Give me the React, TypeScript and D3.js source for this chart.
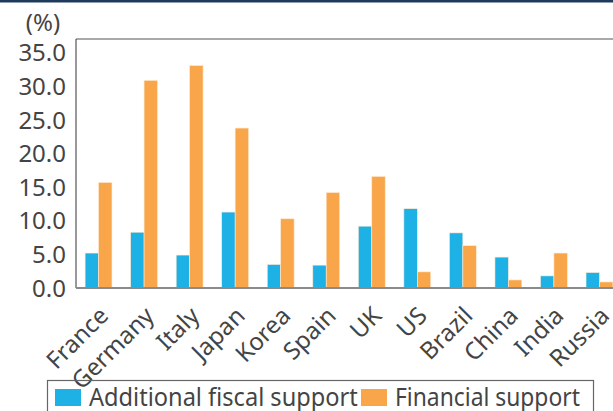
import React, { useRef, useEffect } from 'react';
import * as d3 from 'd3';

const countries = ['France', 'Germany', 'Italy', 'Japan', 'Korea', 'Spain', 'UK', 'US', 'Brazil', 'China', 'India', 'Russia'];
const fiscalSupport = [5.2, 8.3, 4.9, 11.3, 3.5, 3.4, 9.2, 11.8, 8.2, 4.6, 1.8, 2.3];
const financialSupport = [15.7, 30.9, 33.1, 23.8, 10.3, 14.2, 16.6, 2.4, 6.3, 1.2, 5.2, 0.9];
const yTicks = [0, 5, 10, 15, 20, 25, 30, 35];
const seriesNames = ['Additional fiscal support', 'Financial support'];
const colors = ['#1db1e6', '#f9a64b'];

const App = () => {
  const svgRef = useRef<SVGSVGElement>(null);

  useEffect(() => {
    const svg = d3.select(svgRef.current);
    svg.selectAll('*').remove();

    const width = 613;
    const left = 76;
    const top = 39;
    const bottom = 288;
    const font = "'Noto Sans', sans-serif";
    const textColor = '#444';

    // top dark band
    svg.append('rect').attr('x', 0).attr('y', 0).attr('width', width).attr('height', 2.5).attr('fill', '#1f3b5c');

    const x = d3.scaleBand<string>().domain(countries).range([left, 622]).paddingInner(0.41).paddingOuter(0.2);
    const y = d3.scaleLinear().domain([0, 35]).range([bottom, 52.8]);

    // frame
    svg.append('line').attr('x1', left).attr('x2', width).attr('y1', top).attr('y2', top)
      .attr('stroke', '#555').attr('stroke-width', 1.2);
    svg.append('line').attr('x1', left).attr('x2', left).attr('y1', top).attr('y2', bottom)
      .attr('stroke', '#555').attr('stroke-width', 1.2);

    // bars
    const bw = x.bandwidth() / 2;
    [fiscalSupport, financialSupport].forEach((vals, si) => {
      svg.append('g').selectAll('rect').data(vals).enter().append('rect')
        .attr('x', (_, i) => (x(countries[i]) as number) + si * bw)
        .attr('y', (d) => y(d))
        .attr('width', bw)
        .attr('height', (d) => bottom - y(d))
        .attr('fill', colors[si])
        .attr('stroke', '#fde9d2')
        .attr('stroke-width', 0.6);
    });

    // x axis line
    svg.append('line').attr('x1', left).attr('x2', width).attr('y1', bottom).attr('y2', bottom)
      .attr('stroke', '#8a8a8a').attr('stroke-width', 2);

    // y tick labels
    svg.append('g').selectAll('text').data(yTicks).enter().append('text')
      .attr('x', 66).attr('y', (d) => y(d)).attr('dy', '0.36em')
      .attr('text-anchor', 'end').attr('font-family', font).attr('font-size', 24)
      .attr('fill', textColor).text((d) => d3.format('.1f')(d));

    svg.append('text').attr('x', 43).attr('y', 31).attr('text-anchor', 'middle')
      .attr('font-family', font).attr('font-size', 24).attr('fill', textColor).text('(%)');

    // x labels
    svg.append('g').selectAll('text').data(countries).enter().append('text')
      .attr('transform', (d) => `translate(${(x(d) as number) + x.bandwidth() / 2 - 1},${bottom + 17}) rotate(-45)`)
      .attr('text-anchor', 'end').attr('dy', '0.72em')
      .attr('font-family', font).attr('font-size', 24).attr('fill', textColor).text((d) => d);

    // legend (text squeezed horizontally to fit the boxed width)
    svg.append('rect').attr('x', 47.5).attr('y', 380.5).attr('width', 546).attr('height', 40)
      .attr('fill', 'none').attr('stroke', '#666').attr('stroke-width', 1.2);
    const legendX = [55, 361];
    const legendLen = [269, 185];
    seriesNames.forEach((name, i) => {
      svg.append('rect').attr('x', legendX[i]).attr('y', 389).attr('width', 26).attr('height', 17).attr('fill', colors[i]);
      const t = svg.append('text')
        .attr('font-family', font).attr('font-size', 25).attr('fill', textColor).text(name);
      const natural = (t.node() as SVGTextElement).getComputedTextLength() || legendLen[i];
      t.attr('transform', `translate(${legendX[i] + 34},406) scale(${legendLen[i] / natural},1)`);
    });
  }, []);

  return (
    <svg ref={svgRef} width={613} height={411} style={{ position: 'absolute', left: 0, top: 0, background: '#fff' }} />
  );
};

export default App;
